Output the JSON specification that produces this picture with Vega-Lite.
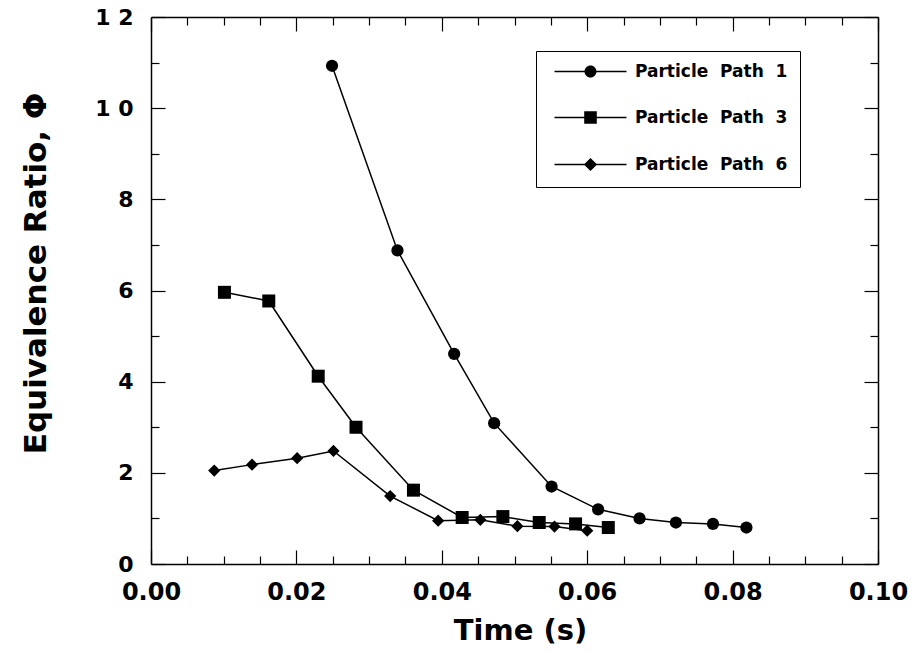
{
  "$schema": "https://vega.github.io/schema/vega-lite/v6.json",
  "width": 727,
  "height": 547,
  "autosize": {"type": "none"},
  "padding": {"left": 151, "top": 17, "right": 39, "bottom": 89},
  "background": "white",
  "data": {
    "values": [
      {"series": "Particle Path 1", "t": 0.0249, "phi": 10.93},
      {"series": "Particle Path 1", "t": 0.0339, "phi": 6.88},
      {"series": "Particle Path 1", "t": 0.0417, "phi": 4.61},
      {"series": "Particle Path 1", "t": 0.0472, "phi": 3.09},
      {"series": "Particle Path 1", "t": 0.0551, "phi": 1.70},
      {"series": "Particle Path 1", "t": 0.0615, "phi": 1.20},
      {"series": "Particle Path 1", "t": 0.0672, "phi": 1.00},
      {"series": "Particle Path 1", "t": 0.0722, "phi": 0.91},
      {"series": "Particle Path 1", "t": 0.0773, "phi": 0.88},
      {"series": "Particle Path 1", "t": 0.0819, "phi": 0.80},
      {"series": "Particle Path 3", "t": 0.0101, "phi": 5.96},
      {"series": "Particle Path 3", "t": 0.0162, "phi": 5.77},
      {"series": "Particle Path 3", "t": 0.0230, "phi": 4.12},
      {"series": "Particle Path 3", "t": 0.0282, "phi": 3.00},
      {"series": "Particle Path 3", "t": 0.0361, "phi": 1.62},
      {"series": "Particle Path 3", "t": 0.0428, "phi": 1.02},
      {"series": "Particle Path 3", "t": 0.0484, "phi": 1.04},
      {"series": "Particle Path 3", "t": 0.0534, "phi": 0.91},
      {"series": "Particle Path 3", "t": 0.0584, "phi": 0.88},
      {"series": "Particle Path 3", "t": 0.0629, "phi": 0.80},
      {"series": "Particle Path 6", "t": 0.0087, "phi": 2.05},
      {"series": "Particle Path 6", "t": 0.0139, "phi": 2.18},
      {"series": "Particle Path 6", "t": 0.0201, "phi": 2.32},
      {"series": "Particle Path 6", "t": 0.0251, "phi": 2.48},
      {"series": "Particle Path 6", "t": 0.0329, "phi": 1.49},
      {"series": "Particle Path 6", "t": 0.0395, "phi": 0.95},
      {"series": "Particle Path 6", "t": 0.0453, "phi": 0.97},
      {"series": "Particle Path 6", "t": 0.0504, "phi": 0.83},
      {"series": "Particle Path 6", "t": 0.0555, "phi": 0.82},
      {"series": "Particle Path 6", "t": 0.0600, "phi": 0.73}
    ]
  },
  "layer": [
    {
      "mark": {"type": "line", "color": "black", "strokeWidth": 1.5},
      "encoding": {
        "detail": {"field": "series"},
        "x": {
          "field": "t", "type": "quantitative",
          "scale": {"domain": [0, 0.1], "nice": false, "zero": false},
          "axis": {
            "orient": "bottom",
            "values": [0, 0.005, 0.01, 0.015, 0.02, 0.025, 0.03, 0.035, 0.04, 0.045, 0.05, 0.055, 0.06, 0.065, 0.07, 0.075, 0.08, 0.085, 0.09, 0.095, 0.1],
            "labelExpr": "abs(datum.value*50 - round(datum.value*50)) < 0.001 ? format(datum.value, '.2f') : ''",
            "labelFontSize": 24,
            "tickSize": {"condition": {"test": "abs(datum.value*50 - round(datum.value*50)) < 0.001", "value": -14}, "value": -8},
            "labelPadding": 30,
            "title": "Time (s)",
            "titlePadding": 6,
            "titleX": 369
          }
        },
        "y": {
          "field": "phi", "type": "quantitative",
          "scale": {"domain": [0, 12], "nice": false},
          "axis": {
            "orient": "left",
            "values": [0, 1, 2, 3, 4, 5, 6, 7, 8, 9, 10, 11, 12],
            "labelExpr": "datum.value == 10 ? '1 0' : datum.value == 12 ? '1 2' : (datum.value % 2 == 0 ? format(datum.value, 'd') : '')",
            "labelFontSize": 22,
            "tickSize": {"condition": {"test": "datum.value % 2 == 0", "value": -14}, "value": -8},
            "labelPadding": 32,
            "title": "Equivalence Ratio, Φ",
            "titleFontSize": 31,
            "titlePadding": 42,
            "titleY": 256
          }
        }
      }
    },
    {
      "transform": [{"filter": "datum.series == 'Particle Path 1'"}],
      "mark": {"type": "point", "filled": true, "color": "black", "size": 150, "opacity": 1, "shape": "circle"},
      "encoding": {
        "x": {
          "field": "t", "type": "quantitative",
          "scale": {"domain": [0, 0.1], "nice": false, "zero": false},
          "axis": {
            "orient": "top",
            "values": [0, 0.005, 0.01, 0.015, 0.02, 0.025, 0.03, 0.035, 0.04, 0.045, 0.05, 0.055, 0.06, 0.065, 0.07, 0.075, 0.08, 0.085, 0.09, 0.095, 0.1],
            "labels": false,
            "title": null,
            "tickSize": {"condition": {"test": "abs(datum.value*50 - round(datum.value*50)) < 0.001", "value": -14}, "value": -8}
          }
        },
        "y": {
          "field": "phi", "type": "quantitative",
          "scale": {"domain": [0, 12], "nice": false},
          "axis": {
            "orient": "right",
            "values": [0, 1, 2, 3, 4, 5, 6, 7, 8, 9, 10, 11, 12],
            "labels": false,
            "title": null,
            "tickSize": {"condition": {"test": "datum.value % 2 == 0", "value": -14}, "value": -8}
          }
        }
      }
    },
    {
      "transform": [{"filter": "datum.series == 'Particle Path 3'"}],
      "mark": {"type": "point", "filled": true, "color": "black", "size": 169, "opacity": 1, "shape": "square"},
      "encoding": {
        "x": {"field": "t", "type": "quantitative", "scale": {"domain": [0, 0.1], "nice": false, "zero": false}, "axis": null},
        "y": {"field": "phi", "type": "quantitative", "scale": {"domain": [0, 12], "nice": false}, "axis": null}
      }
    },
    {
      "transform": [{"filter": "datum.series == 'Particle Path 6'"}],
      "mark": {"type": "point", "filled": true, "color": "black", "size": 150, "opacity": 1, "shape": "diamond"},
      "encoding": {
        "x": {"field": "t", "type": "quantitative", "scale": {"domain": [0, 0.1], "nice": false, "zero": false}, "axis": null},
        "y": {"field": "phi", "type": "quantitative", "scale": {"domain": [0, 12], "nice": false}, "axis": null}
      }
    },
    {
      "mark": {"type": "point", "filled": true, "color": "black", "size": 144, "opacity": 0},
      "encoding": {
        "shape": {
          "field": "series", "type": "nominal",
          "scale": {"range": [
            "M-6,-0.12H-0.95V0.12H-6ZM0.95,-0.12H6V0.12H0.95ZM1,0A1,1,0,1,1,-1,0A1,1,0,1,1,1,0Z",
            "M-6,-0.12H-1.05V0.12H-6ZM1.05,-0.12H6V0.12H1.05ZM-1.05,-1.05H1.05V1.05H-1.05Z",
            "M-6,-0.12H-1V0.12H-6ZM1,-0.12H6V0.12H1ZM0,-1.1L1.1,0L0,1.1L-1.1,0Z"
          ]},
          "legend": {
            "title": null,
            "orient": "none",
            "legendX": 385,
            "legendY": 34,
            "strokeColor": "black",
            "fillColor": "white",
            "padding": 12,
            "rowPadding": 27,
            "symbolOffset": 34,
            "labelOffset": 36,
            "labelFont": "DejaVu Sans",
            "labelFontSize": 17,
            "labelFontWeight": "bold",
            "labelColor": "black",
            "labelLimit": 300,
            "symbolSize": 144,
            "labelExpr": "replace(datum.label, regexp(' ', 'g'), '\u00a0\u00a0')",
            "encode": {
              "symbols": {
                "update": {
                  "fill": {"value": "black"},
                  "stroke": {"value": "black"},
                  "strokeWidth": {"value": 0.5},
                  "opacity": {"value": 1},
                  "fillOpacity": {"value": 1},
                  "strokeOpacity": {"value": 1},
                  "size": {"value": 144}
                }
              }
            }
          }
        },
        "x": {"field": "t", "type": "quantitative", "scale": {"domain": [0, 0.1], "nice": false, "zero": false}, "axis": null},
        "y": {"field": "phi", "type": "quantitative", "scale": {"domain": [0, 12], "nice": false}, "axis": null}
      }
    }
  ],
  "resolve": {"axis": {"x": "independent", "y": "independent"}},
  "config": {
    "view": {"stroke": null},
    "axis": {
      "domainColor": "black",
      "domainWidth": 1.5,
      "tickColor": "black",
      "tickWidth": 1.2,
      "grid": false,
      "labelFont": "DejaVu Sans",
      "labelFontWeight": "bold",
      "labelColor": "black",
      "titleFont": "DejaVu Sans",
      "titleFontWeight": "bold",
      "titleFontSize": 29,
      "titleColor": "black",
      "labelOverlap": false,
      "labelFlush": false,
      "labelBound": false
    }
  }
}
